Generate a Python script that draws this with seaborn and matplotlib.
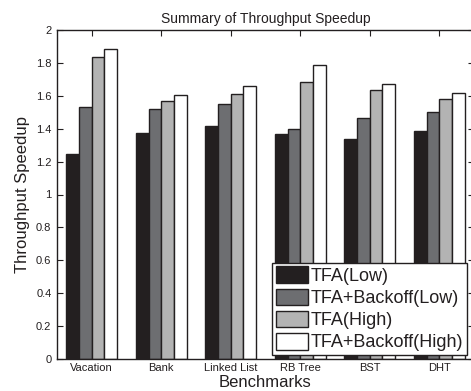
import matplotlib
matplotlib.use("Agg")
import matplotlib.pyplot as plt
import seaborn as sns
import pandas as pd

benchmarks = ["Vacation", "Bank", "Linked List", "RB Tree", "BST", "DHT"]
series_names = ["TFA(Low)", "TFA+Backoff(Low)", "TFA(High)", "TFA+Backoff(High)"]
tfa_low = [1.245, 1.375, 1.415, 1.37, 1.338, 1.386]
tfa_backoff_low = [1.532, 1.518, 1.55, 1.398, 1.467, 1.50]
tfa_high = [1.836, 1.566, 1.613, 1.684, 1.635, 1.58]
tfa_backoff_high = [1.884, 1.605, 1.658, 1.787, 1.67, 1.615]
colors = ["#231f20", "#6d6e71", "#b3b3b3", "#ffffff"]
yticks = [0, 0.2, 0.4, 0.6, 0.8, 1, 1.2, 1.4, 1.6, 1.8, 2]
ytick_labels = ["0", "0.2", "0.4", "0.6", "0.8", "1", "1.2", "1.4", "1.6", "1.8", "2"]

sns.set_style("white")
plt.rcParams['font.family'] = ['Liberation Sans', 'DejaVu Sans']

rows = []
for name, vals in zip(series_names, [tfa_low, tfa_backoff_low, tfa_high, tfa_backoff_high]):
    for b, v in zip(benchmarks, vals):
        rows.append({"Benchmark": b, "Series": name, "Speedup": v})
df = pd.DataFrame(rows)

fig = plt.figure(figsize=(4.71, 3.91), dpi=100)
ax = fig.add_axes([57/471, 1 - 359/391, (474-57)/471, (359-30)/391])

sns.barplot(data=df, x="Benchmark", y="Speedup", hue="Series", order=benchmarks,
            hue_order=series_names, palette=colors, width=0.73, gap=0,
            edgecolor="#231f20", linewidth=1.0, saturation=1, ax=ax, legend=True)

ax.set_xlim(-0.5, 5.5)
ax.set_ylim(0, 2)
ax.set_yticks(yticks)
ax.set_yticklabels(ytick_labels)
ax.tick_params(axis='both', direction='in', length=4, width=0.8, labelsize=8,
               colors="#231f20", top=True, right=True, bottom=True, left=True, pad=3)
ax.tick_params(axis='y', pad=4)
for s in ax.spines.values():
    s.set_color("#231f20")
    s.set_linewidth(1.0)
    s.set_visible(True)

ax.set_title("Summary of Throughput Speedup", fontsize=10, color="#231f20", pad=5)
ax.set_xlabel("Benchmarks", fontsize=12, color="#231f20", labelpad=1.5)
ax.set_ylabel("Throughput Speedup", fontsize=12, color="#231f20", labelpad=4)

handles, labels = ax.get_legend_handles_labels()
leg = ax.legend(handles, labels, loc="lower right",
                bbox_to_anchor=(467/471, 1 - 355/391), bbox_transform=fig.transFigure,
                fontsize=13, frameon=True, fancybox=False, edgecolor="#231f20",
                framealpha=1, borderpad=0.2, labelspacing=0.2, handlelength=1.8,
                handleheight=1.05, handletextpad=0.15, borderaxespad=0)
leg.get_frame().set_linewidth(1.0)
for t in leg.get_texts():
    t.set_color("#231f20")

fig.savefig("out.png", dpi=100)
